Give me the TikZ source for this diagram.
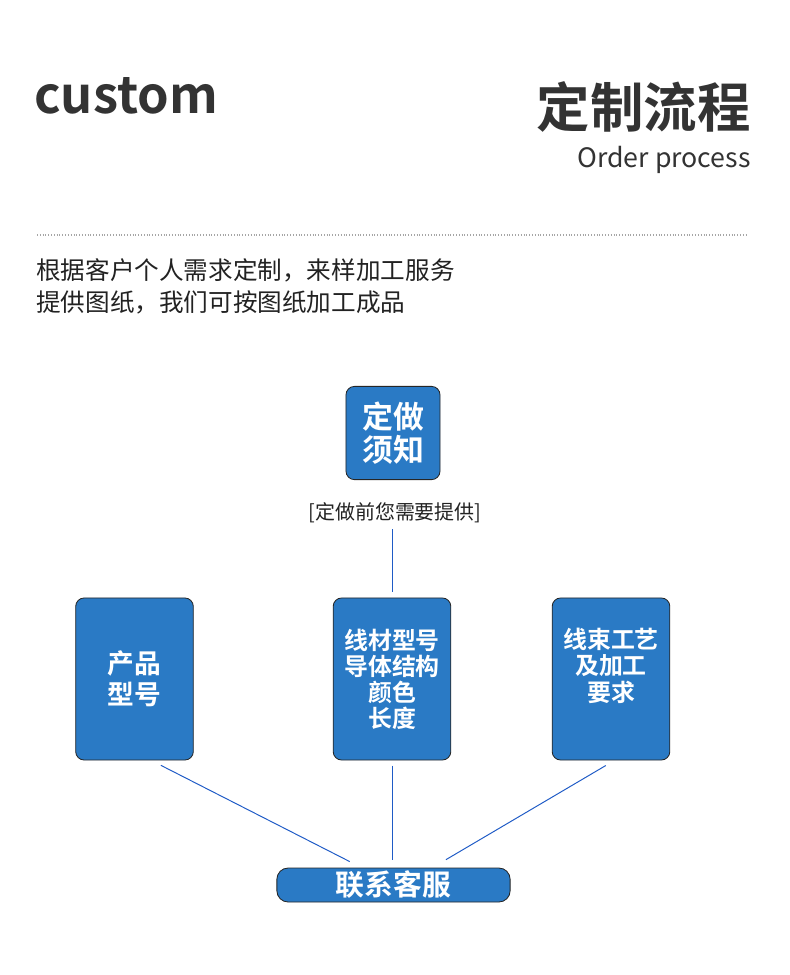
\documentclass[tikz,border=0pt]{standalone}
\usepackage{fontspec}
\setmainfont{Noto Sans CJK SC}[BoldFont={Noto Sans CJK SC Bold}]
\usetikzlibrary{positioning}
\definecolor{figBlue}{HTML}{2A7AC5}
\definecolor{figLine}{HTML}{1F5BC6}
\definecolor{figDark}{HTML}{333333}
\definecolor{figText}{HTML}{222222}

\begin{document}
\begin{tikzpicture}[x=0.025cm,y=-0.025cm,
  card/.style={draw=black!85,line width=0.6pt,fill=figBlue,rounded corners=6pt,
               text=white,align=center,inner sep=0pt,
               minimum width=2.94cm,minimum height=4.05cm},
  link/.style={figLine,line width=0.7pt}
]
\useasboundingbox (0,0) rectangle (790,975);
% header
\node[anchor=base west,inner sep=0pt,text=figDark,font=\bfseries\fontsize{36}{40}\selectfont] (brand) at (34,113) {custom};
\node[anchor=base east,inner sep=0pt,text=figDark,font=\bfseries\fontsize{38}{42}\selectfont] (title) at (751,127) {定制流程};
\node[anchor=base east,inner sep=0pt,text=figDark,font=\fontsize{19}{22}\selectfont] (subtitle) at (751,167) {Order process};
\draw[gray!70,line width=0.8pt,dash pattern=on 0.6pt off 1.4pt] (37,235) -- (748,235);
\node[anchor=north west,inner sep=0pt,align=left,text=figText,font=\fontsize{17.5}{22.8}\selectfont] (intro) at (36,258)
  {根据客户个人需求定制，来样加工服务\\提供图纸，我们可按图纸加工成品};

% flow
\node[card,minimum width=2.35cm,minimum height=2.33cm,font=\bfseries\fontsize{22}{23}\selectfont] (notice) at (393,433) {定做\\须知};
\node[inner sep=0pt,text=figText,font=\fontsize{14.2}{16}\selectfont] (note) at (395,513) {[定做前您需要提供]};
\node[card,font=\bfseries\fontsize{19}{22}\selectfont] (model) at (134.5,679) {产品\\型号};
\node[card,font=\bfseries\fontsize{17}{18.5}\selectfont] (wire) at (392,679) {线材型号\\导体结构\\颜色\\长度};
\node[card,font=\bfseries\fontsize{17}{19}\selectfont] (craft) at (611,679) {线束工艺\\及加工\\要求\\\phantom{要}};
\node[card,minimum width=5.83cm,minimum height=0.85cm,rounded corners=8pt,font=\bfseries\fontsize{20.5}{22}\selectfont] (service) at (393.5,885) {联系客服};

\draw[link,shorten <=0.15cm,shorten >=0.13cm] (wire.north |- note.south) -- (wire.north);
\draw[link,shorten <=0.27cm,shorten >=0.33cm] ([xshift=0.42cm]model.south) -- ([xshift=-0.8cm]service.north);
\draw[link,shorten <=0.13cm,shorten >=0.2cm] (wire.south) -- (wire.south |- service.north);
\draw[link,shorten <=0.25cm,shorten >=0.39cm] ([xshift=0.085cm]craft.south) -- ([xshift=0.975cm]service.north);
\end{tikzpicture}
\end{document}
